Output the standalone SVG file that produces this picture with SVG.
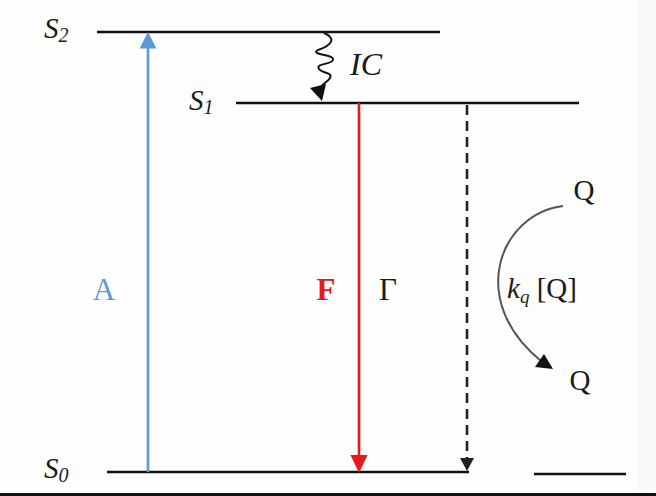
<svg xmlns="http://www.w3.org/2000/svg" width="656" height="496" viewBox="0 0 656 496">
<style>
.lvl{stroke:#111;stroke-width:2.6;fill:none}
.t{font-family:"Liberation Serif","Times New Roman",serif;fill:#1a1a1a}
.it{font-style:italic}
</style>
<rect x="0" y="0" width="656" height="496" fill="#fdfdfe"/>
<rect x="640" y="0" width="16" height="494" fill="#fafafb"/>
<line x1="640" y1="0" x2="640" y2="494" stroke="#efeff2" stroke-width="1"/>
<rect x="0" y="493" width="656" height="3" fill="#111"/>

<g id="S2">
<line class="lvl" x1="97" y1="32" x2="440" y2="32"/>
<text class="t it" x="44" y="38" font-size="29">S<tspan font-size="20" dy="4">2</tspan></text>
</g>
<g id="S1">
<line class="lvl" x1="236" y1="103" x2="579" y2="103"/>
<text class="t it" x="189" y="110" font-size="29">S<tspan font-size="20" dy="4">1</tspan></text>
</g>
<g id="S0">
<line class="lvl" x1="107" y1="472" x2="469" y2="472"/>
<text class="t it" x="44" y="478" font-size="29">S<tspan font-size="20" dy="4">0</tspan></text>
</g>
<g id="Qlevel">
<line class="lvl" x1="534" y1="474" x2="626" y2="474"/>
</g>
<g id="Qtop"><text class="t" x="584" y="200" font-size="29" text-anchor="middle">Q</text></g>
<g id="Qbottom"><text class="t" x="580" y="390" font-size="29" text-anchor="middle">Q</text></g>

<g id="connectors">
<g id="absorption">
<line x1="148" y1="472" x2="148" y2="46" stroke="#5b9bd5" stroke-width="2.6"/>
<polygon points="148,32 139.5,48.5 156.5,48.5" fill="#5b9bd5"/>
<text x="104" y="300" font-family="Liberation Serif,serif" font-size="31" fill="#5b9bd5" text-anchor="middle">A</text>
</g>
<g id="IC">
<path d="M324,33 C336,38 333,45 318,50 C309,55 335,54 333,60 C331,65 315,63 319,69 C323,74 333,72 330,78 C327,83 321,84 321,88" stroke="#111" stroke-width="2" fill="none"/>
<polygon points="322,101 310,88 326,84" fill="#111"/>
<text class="t it" x="350" y="75" font-size="32">IC</text>
</g>
<g id="fluorescence">
<line x1="359" y1="103" x2="359" y2="458" stroke="#e8191c" stroke-width="2.6"/>
<polygon points="359,473 350.5,455 367.5,455" fill="#e8191c"/>
<text x="326" y="300" font-family="Liberation Serif,serif" font-size="31" font-weight="bold" fill="#e8191c" text-anchor="middle">F</text>
<text class="t" x="388" y="300" font-size="31" text-anchor="middle">Γ</text>
</g>
<g id="nonradiative">
<line x1="467" y1="105" x2="467" y2="460" stroke="#222" stroke-width="2.6" stroke-dasharray="10,6"/>
<polygon points="467,471 460,458 474,458" fill="#222"/>
</g>
<g id="quenching">
<path d="M563,206 C500,214 466,300 541,361" stroke="#555" stroke-width="2" fill="none"/>
<polygon points="553,369 535,367 544,354" fill="#111"/>
<text class="t" x="507" y="298" font-size="29"><tspan class="it">k</tspan><tspan class="it" font-size="19" dy="5">q</tspan><tspan dy="-5"> [Q]</tspan></text>
</g>
</g>
</svg>
